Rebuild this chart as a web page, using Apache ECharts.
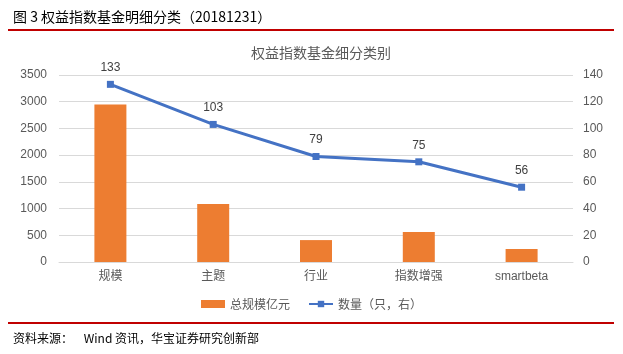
<!DOCTYPE html>
<html>
<head>
<meta charset="utf-8">
<script src="https://cdn.jsdelivr.net/npm/echarts@6/dist/echarts.min.js"></script>
<style>
  html, body { margin: 0; padding: 0; background: #fff; }
  #chart { width: 623px; height: 354px; }
</style>
</head>
<body>
<div id="chart"></div>
<script>
// 权益指数基金细分类别
var categories = ['规模', '主题', '行业', '指数增强', 'smartbeta'];
var scaleValues = [2950, 1085, 410, 560, 245];   // 总规模亿元
var countValues = [133, 103, 79, 75, 56];        // 数量（只，右）

var labelFont = '"Liberation Sans", "Noto Sans CJK SC", sans-serif';
var cjkFont = '"Noto Sans CJK SC", "Liberation Sans", sans-serif';

var chart = echarts.init(document.getElementById('chart'));
var option = {
  animation: false,
  textStyle: { fontFamily: labelFont },
  title: [
    {
      text: '图 3 权益指数基金明细分类（20181231）',
      left: 8, top: 5,
      textStyle: { fontFamily: cjkFont, fontSize: 14, fontWeight: 'normal', color: '#000' }
    },
    {
      text: '权益指数基金细分类别',
      left: 316, top: 41, textAlign: 'center',
      textStyle: { fontFamily: cjkFont, fontSize: 14, fontWeight: 'normal', color: '#595959' }
    },
    {
      text: '资料来源：    Wind 资讯，华宝证券研究创新部',
      left: 8, top: 327,
      textStyle: { fontFamily: cjkFont, fontSize: 12, fontWeight: 'normal', color: '#000' }
    }
  ],
  graphic: [
    { type: 'rect', shape: { x: 8, y: 29, width: 606, height: 2 }, style: { fill: '#C00000' } },
    { type: 'rect', shape: { x: 8, y: 322, width: 606, height: 2 }, style: { fill: '#C00000' } }
  ],
  grid: { left: 59, right: 50, top: 75, bottom: 92 },
  legend: {
    top: 293, left: 'center', itemGap: 18, itemWidth: 24, itemHeight: 8,
    textStyle: { fontFamily: cjkFont, fontSize: 12, color: '#595959' },
    data: [
      { name: '总规模亿元', icon: 'rect' },
      { name: '数量（只，右）' }
    ]
  },
  xAxis: {
    type: 'category',
    data: categories,
    axisLine: { lineStyle: { color: '#D9D9D9' } },
    axisTick: { show: false },
    axisLabel: { color: '#595959', fontSize: 12, margin: 9, fontFamily: labelFont }
  },
  yAxis: [
    {
      type: 'value', min: 0, max: 3500, interval: 500,
      axisLine: { show: false }, axisTick: { show: false },
      axisLabel: { color: '#595959', fontSize: 12, margin: 12, formatter: function (v) { return String(v); } },
      splitLine: { lineStyle: { color: '#D9D9D9' } }
    },
    {
      type: 'value', min: 0, max: 140, interval: 20,
      axisLine: { show: false }, axisTick: { show: false },
      axisLabel: { color: '#595959', fontSize: 12, margin: 10 },
      splitLine: { show: false }
    }
  ],
  series: [
    {
      name: '总规模亿元',
      type: 'bar',
      data: scaleValues,
      barWidth: 32,
      itemStyle: { color: '#ED7D31' }
    },
    {
      name: '数量（只，右）',
      type: 'line',
      yAxisIndex: 1,
      data: countValues,
      symbol: 'rect',
      symbolSize: 7,
      lineStyle: { color: '#4472C4', width: 3 },
      itemStyle: { color: '#4472C4' },
      label: { show: true, position: 'top', distance: 7, color: '#404040', fontSize: 12 }
    }
  ]
};
chart.setOption(option);
</script>
</body>
</html>
